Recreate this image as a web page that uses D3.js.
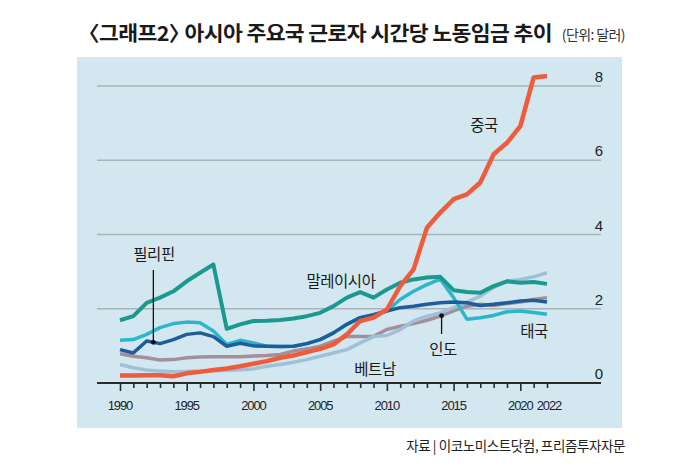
<!DOCTYPE html>
<html>
<head>
<meta charset="utf-8">
<script src="https://cdn.jsdelivr.net/npm/d3@7"></script>
<style>
  body { margin: 0; background: #fff; }
  svg { display: block; }
  .kr { font-family: "Noto Sans CJK KR", "Noto Sans", sans-serif; }
  .num { font-family: "Liberation Sans Narrow", "Liberation Sans", "Noto Sans", sans-serif; }
</style>
</head>
<body>
<div id="chart"></div>
<script>
const years = d3.range(1990, 2023);

const china = [0.20, 0.20, 0.21, 0.21, 0.18, 0.26, 0.30, 0.35, 0.39, 0.45, 0.52, 0.59, 0.68, 0.74, 0.83, 0.92, 1.04, 1.31, 1.67, 1.76, 1.98, 2.61, 3.06, 4.18, 4.59, 4.95, 5.08, 5.40, 6.16, 6.47, 6.92, 8.23, 8.27];
const malaysia = [1.69, 1.80, 2.16, 2.30, 2.47, 2.74, 2.97, 3.19, 1.46, 1.58, 1.67, 1.68, 1.70, 1.74, 1.80, 1.89, 2.07, 2.30, 2.45, 2.30, 2.52, 2.70, 2.79, 2.84, 2.86, 2.50, 2.45, 2.43, 2.61, 2.74, 2.70, 2.72, 2.67];
const thailand = [1.15, 1.17, 1.31, 1.49, 1.60, 1.64, 1.62, 1.40, 1.04, 1.15, 1.08, 0.99, 0.98, 0.99, 1.06, 1.17, 1.35, 1.58, 1.76, 1.84, 1.94, 2.25, 2.47, 2.65, 2.80, 2.30, 1.72, 1.76, 1.82, 1.92, 1.94, 1.90, 1.85];
const philippines = [0.90, 0.81, 1.13, 1.06, 1.17, 1.31, 1.35, 1.25, 0.99, 1.07, 1.00, 0.99, 0.98, 0.99, 1.06, 1.17, 1.35, 1.58, 1.76, 1.84, 1.94, 2.03, 2.07, 2.12, 2.16, 2.18, 2.16, 2.09, 2.12, 2.16, 2.21, 2.23, 2.18];
const india = [0.79, 0.72, 0.68, 0.62, 0.63, 0.68, 0.70, 0.71, 0.71, 0.71, 0.73, 0.74, 0.77, 0.86, 0.92, 0.99, 1.13, 1.25, 1.25, 1.26, 1.44, 1.53, 1.60, 1.69, 1.80, 1.94, 2.07, 2.12, 2.09, 2.14, 2.18, 2.25, 2.30];
const vietnam = [0.50, 0.41, 0.35, 0.32, 0.30, 0.31, 0.32, 0.33, 0.34, 0.36, 0.38, 0.45, 0.50, 0.56, 0.63, 0.72, 0.81, 0.90, 1.08, 1.25, 1.28, 1.44, 1.67, 1.80, 1.89, 2.03, 2.18, 2.34, 2.57, 2.74, 2.79, 2.86, 2.97];

const yTicks = [0, 2, 4, 6, 8];
const yearLabels = [1990, 1995, 2000, 2005, 2010, 2015, 2020, 2022];

const width = 700;
const height = 467;

const x = d3.scaleLinear().domain([1990, 2022]).range([120, 547]);
const y = d3.scaleLinear().domain([0, 8]).range([383, 86]);

const svg = d3.select('#chart')
  .append('svg')
  .attr('width', width)
  .attr('height', height);

// title, squeezed to the width of the original
const title = svg.append('text')
  .attr('class', 'kr')
  .attr('x', 0)
  .attr('y', 0)
  .attr('font-size', 20.5)
  .attr('font-weight', 'bold')
  .attr('letter-spacing', -0.6)
  .attr('fill', '#1a1a1a');
title.append('tspan').text('〈그래프2〉');
title.append('tspan').attr('dx', -9).text(' 아시아 주요국 근로자 시간당 노동임금 추이');
const tw = title.node().getBBox().width;
const bx = title.node().getBBox().x;
title.attr('transform', `translate(${78 - bx * 474 / tw}, 41) scale(${474 / tw}, 1)`);

svg.append('text')
  .attr('class', 'kr')
  .attr('x', 625)
  .attr('y', 40)
  .attr('text-anchor', 'end')
  .attr('font-size', 14)
  .attr('letter-spacing', -0.6)
  .attr('fill', '#333')
  .text('(단위: 달러)');

// panel
svg.append('rect')
  .attr('x', 77)
  .attr('y', 57)
  .attr('width', 545)
  .attr('height', 371)
  .attr('fill', '#d3e7f0');

// grid lines
svg.append('g')
  .selectAll('line')
  .data(yTicks.filter(d => d > 0))
  .enter()
  .append('line')
  .attr('x1', 97)
  .attr('x2', 601)
  .attr('y1', d => y(d))
  .attr('y2', d => y(d))
  .attr('stroke', '#a7b4bb')
  .attr('stroke-width', 1.3);

svg.append('g')
  .selectAll('text')
  .data(yTicks)
  .enter()
  .append('text')
  .attr('class', 'num')
  .attr('x', 603)
  .attr('y', d => y(d) - 4)
  .attr('text-anchor', 'end')
  .attr('font-size', 15)
  .attr('fill', '#222')
  .text(d => d);

// x axis
const xAxis = d3.axisBottom(x)
  .tickValues(years)
  .tickSize(0)
  .tickFormat('');

const gx = svg.append('g')
  .attr('transform', `translate(0, ${y(0)})`)
  .call(xAxis);
gx.select('.domain').remove();

gx.append('line')
  .attr('x1', 97)
  .attr('x2', 601)
  .attr('stroke', '#2a2a2a')
  .attr('stroke-width', 2);

gx.selectAll('.tick line')
  .attr('y2', d => (d % 5 === 0 ? 8 : 5))
  .attr('stroke', '#2a2a2a')
  .attr('stroke-width', 1.6);

svg.append('g')
  .selectAll('text')
  .data(yearLabels)
  .enter()
  .append('text')
  .attr('class', 'num')
  .attr('x', d => x(d) + (d === 2022 ? 2 : 0))
  .attr('y', 410)
  .attr('text-anchor', 'middle')
  .attr('font-size', 13)
  .attr('letter-spacing', -1.1)
  .attr('fill', '#222')
  .text(d => d);

// series lines
const series = [
  { name: 'india', values: india, color: '#a38f9b', w: 3.5 },
  { name: 'vietnam', values: vietnam, color: '#a0c0d7', w: 3.5 },
  { name: 'thailand', values: thailand, color: '#2cb6cb', w: 3.5 },
  { name: 'philippines', values: philippines, color: '#1e5d9a', w: 3.5 },
  { name: 'malaysia', values: malaysia, color: '#1b998e', w: 4 },
  { name: 'china', values: china, color: '#ef5b3b', w: 4.5 },
];

const line = d3.line()
  .x((d, i) => x(years[i]))
  .y(d => y(d));

svg.append('g')
  .selectAll('path')
  .data(series)
  .enter()
  .append('path')
  .attr('d', d => line(d.values))
  .attr('fill', 'none')
  .attr('stroke', d => d.color)
  .attr('stroke-width', d => d.w)
  .attr('stroke-linejoin', 'round')
  .attr('stroke-linecap', 'butt');

// labels
const labels = [
  { text: '중국', x: 484, y: 131 },
  { text: '말레이시아', x: 341, y: 287 },
  { text: '필리핀', x: 154, y: 260 },
  { text: '베트남', x: 375, y: 375 },
  { text: '인도', x: 443, y: 355 },
  { text: '태국', x: 534, y: 337 },
];

svg.append('g')
  .selectAll('text')
  .data(labels)
  .enter()
  .append('text')
  .attr('class', 'kr')
  .attr('x', d => d.x)
  .attr('y', d => d.y)
  .attr('text-anchor', 'middle')
  .attr('font-size', 15.5)
  .attr('letter-spacing', -0.5)
  .attr('fill', '#1a1a1a')
  .text(d => d.text);

// pointers
const interp = (arr, yr) => {
  const i = Math.floor(yr - 1990);
  const t = yr - 1990 - i;
  return arr[i] + (arr[i + 1] - arr[i]) * t;
};

const pointers = [
  { yr: 1992.5, v: interp(philippines, 1992.5), top: 270 },
  { yr: 2014.1, v: interp(india, 2014.1), end: 334 },
];

const gp = svg.append('g');
pointers.forEach(p => {
  const px = x(p.yr);
  const py = y(p.v);
  gp.append('line')
    .attr('x1', px)
    .attr('x2', px)
    .attr('y1', p.top !== undefined ? p.top : py)
    .attr('y2', p.top !== undefined ? py : p.end)
    .attr('stroke', '#111')
    .attr('stroke-width', 1.3);
  gp.append('circle')
    .attr('cx', px)
    .attr('cy', py)
    .attr('r', 2.4)
    .attr('fill', '#111');
});

// source
svg.append('text')
  .attr('class', 'kr')
  .attr('x', 625)
  .attr('y', 451)
  .attr('text-anchor', 'end')
  .attr('font-size', 13.5)
  .attr('letter-spacing', -0.4)
  .attr('fill', '#222')
  .text('자료 | 이코노미스트닷컴, 프리즘투자자문');
</script>
</body>
</html>
